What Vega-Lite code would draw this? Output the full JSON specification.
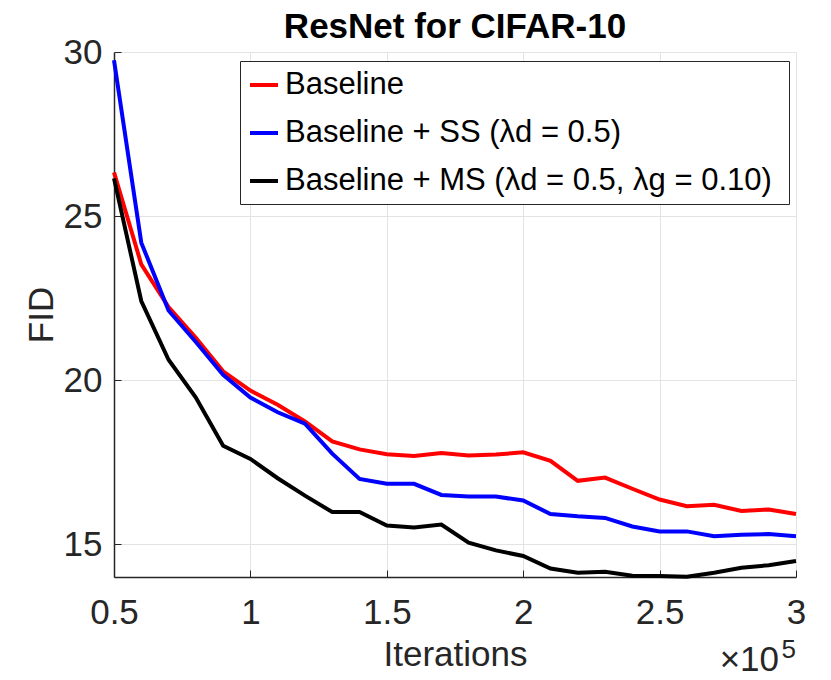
{
  "$schema": "https://vega.github.io/schema/vega-lite/v6.json",
  "width": 682,
  "height": 525,
  "autosize": {"type": "none"},
  "padding": {"left": 114, "top": 52, "right": 35, "bottom": 103},
  "background": "white",
  "title": {
    "text": "ResNet for CIFAR-10",
    "font": "Liberation Sans",
    "fontSize": 35,
    "fontWeight": "bold",
    "color": "#000000",
    "anchor": "middle",
    "baseline": "alphabetic",
    "offset": -38
  },
  "config": {
    "view": {"stroke": null},
    "font": "Liberation Sans"
  },
  "data": {
    "values": [
      {"x": 0.5, "fid": 26.33, "series": "Baseline"},
      {"x": 0.6, "fid": 23.53, "series": "Baseline"},
      {"x": 0.7, "fid": 22.23, "series": "Baseline"},
      {"x": 0.8, "fid": 21.29, "series": "Baseline"},
      {"x": 0.9, "fid": 20.27, "series": "Baseline"},
      {"x": 1.0, "fid": 19.68, "series": "Baseline"},
      {"x": 1.1, "fid": 19.25, "series": "Baseline"},
      {"x": 1.2, "fid": 18.74, "series": "Baseline"},
      {"x": 1.3, "fid": 18.13, "series": "Baseline"},
      {"x": 1.4, "fid": 17.89, "series": "Baseline"},
      {"x": 1.5, "fid": 17.74, "series": "Baseline"},
      {"x": 1.6, "fid": 17.69, "series": "Baseline"},
      {"x": 1.7, "fid": 17.78, "series": "Baseline"},
      {"x": 1.8, "fid": 17.70, "series": "Baseline"},
      {"x": 1.9, "fid": 17.73, "series": "Baseline"},
      {"x": 2.0, "fid": 17.80, "series": "Baseline"},
      {"x": 2.1, "fid": 17.54, "series": "Baseline"},
      {"x": 2.2, "fid": 16.93, "series": "Baseline"},
      {"x": 2.3, "fid": 17.03, "series": "Baseline"},
      {"x": 2.4, "fid": 16.69, "series": "Baseline"},
      {"x": 2.5, "fid": 16.36, "series": "Baseline"},
      {"x": 2.6, "fid": 16.16, "series": "Baseline"},
      {"x": 2.7, "fid": 16.20, "series": "Baseline"},
      {"x": 2.8, "fid": 16.01, "series": "Baseline"},
      {"x": 2.9, "fid": 16.06, "series": "Baseline"},
      {"x": 3.0, "fid": 15.92, "series": "Baseline"},
      {"x": 0.5, "fid": 29.75, "series": "Baseline + SS (λd = 0.5)"},
      {"x": 0.6, "fid": 24.19, "series": "Baseline + SS (λd = 0.5)"},
      {"x": 0.7, "fid": 22.12, "series": "Baseline + SS (λd = 0.5)"},
      {"x": 0.8, "fid": 21.16, "series": "Baseline + SS (λd = 0.5)"},
      {"x": 0.9, "fid": 20.16, "series": "Baseline + SS (λd = 0.5)"},
      {"x": 1.0, "fid": 19.47, "series": "Baseline + SS (λd = 0.5)"},
      {"x": 1.1, "fid": 19.02, "series": "Baseline + SS (λd = 0.5)"},
      {"x": 1.2, "fid": 18.67, "series": "Baseline + SS (λd = 0.5)"},
      {"x": 1.3, "fid": 17.76, "series": "Baseline + SS (λd = 0.5)"},
      {"x": 1.4, "fid": 16.99, "series": "Baseline + SS (λd = 0.5)"},
      {"x": 1.5, "fid": 16.84, "series": "Baseline + SS (λd = 0.5)"},
      {"x": 1.6, "fid": 16.84, "series": "Baseline + SS (λd = 0.5)"},
      {"x": 1.7, "fid": 16.50, "series": "Baseline + SS (λd = 0.5)"},
      {"x": 1.8, "fid": 16.45, "series": "Baseline + SS (λd = 0.5)"},
      {"x": 1.9, "fid": 16.45, "series": "Baseline + SS (λd = 0.5)"},
      {"x": 2.0, "fid": 16.33, "series": "Baseline + SS (λd = 0.5)"},
      {"x": 2.1, "fid": 15.92, "series": "Baseline + SS (λd = 0.5)"},
      {"x": 2.2, "fid": 15.85, "series": "Baseline + SS (λd = 0.5)"},
      {"x": 2.3, "fid": 15.80, "series": "Baseline + SS (λd = 0.5)"},
      {"x": 2.4, "fid": 15.54, "series": "Baseline + SS (λd = 0.5)"},
      {"x": 2.5, "fid": 15.39, "series": "Baseline + SS (λd = 0.5)"},
      {"x": 2.6, "fid": 15.39, "series": "Baseline + SS (λd = 0.5)"},
      {"x": 2.7, "fid": 15.24, "series": "Baseline + SS (λd = 0.5)"},
      {"x": 2.8, "fid": 15.29, "series": "Baseline + SS (λd = 0.5)"},
      {"x": 2.9, "fid": 15.31, "series": "Baseline + SS (λd = 0.5)"},
      {"x": 3.0, "fid": 15.24, "series": "Baseline + SS (λd = 0.5)"},
      {"x": 0.5, "fid": 26.15, "series": "Baseline + MS (λd = 0.5,  λg = 0.10)"},
      {"x": 0.6, "fid": 22.41, "series": "Baseline + MS (λd = 0.5,  λg = 0.10)"},
      {"x": 0.7, "fid": 20.62, "series": "Baseline + MS (λd = 0.5,  λg = 0.10)"},
      {"x": 0.8, "fid": 19.47, "series": "Baseline + MS (λd = 0.5,  λg = 0.10)"},
      {"x": 0.9, "fid": 18.00, "series": "Baseline + MS (λd = 0.5,  λg = 0.10)"},
      {"x": 1.0, "fid": 17.60, "series": "Baseline + MS (λd = 0.5,  λg = 0.10)"},
      {"x": 1.1, "fid": 17.01, "series": "Baseline + MS (λd = 0.5,  λg = 0.10)"},
      {"x": 1.2, "fid": 16.48, "series": "Baseline + MS (λd = 0.5,  λg = 0.10)"},
      {"x": 1.3, "fid": 15.98, "series": "Baseline + MS (λd = 0.5,  λg = 0.10)"},
      {"x": 1.4, "fid": 15.98, "series": "Baseline + MS (λd = 0.5,  λg = 0.10)"},
      {"x": 1.5, "fid": 15.57, "series": "Baseline + MS (λd = 0.5,  λg = 0.10)"},
      {"x": 1.6, "fid": 15.51, "series": "Baseline + MS (λd = 0.5,  λg = 0.10)"},
      {"x": 1.7, "fid": 15.60, "series": "Baseline + MS (λd = 0.5,  λg = 0.10)"},
      {"x": 1.8, "fid": 15.05, "series": "Baseline + MS (λd = 0.5,  λg = 0.10)"},
      {"x": 1.9, "fid": 14.81, "series": "Baseline + MS (λd = 0.5,  λg = 0.10)"},
      {"x": 2.0, "fid": 14.64, "series": "Baseline + MS (λd = 0.5,  λg = 0.10)"},
      {"x": 2.1, "fid": 14.26, "series": "Baseline + MS (λd = 0.5,  λg = 0.10)"},
      {"x": 2.2, "fid": 14.13, "series": "Baseline + MS (λd = 0.5,  λg = 0.10)"},
      {"x": 2.3, "fid": 14.16, "series": "Baseline + MS (λd = 0.5,  λg = 0.10)"},
      {"x": 2.4, "fid": 14.04, "series": "Baseline + MS (λd = 0.5,  λg = 0.10)"},
      {"x": 2.5, "fid": 14.03, "series": "Baseline + MS (λd = 0.5,  λg = 0.10)"},
      {"x": 2.6, "fid": 14.01, "series": "Baseline + MS (λd = 0.5,  λg = 0.10)"},
      {"x": 2.7, "fid": 14.13, "series": "Baseline + MS (λd = 0.5,  λg = 0.10)"},
      {"x": 2.8, "fid": 14.28, "series": "Baseline + MS (λd = 0.5,  λg = 0.10)"},
      {"x": 2.9, "fid": 14.36, "series": "Baseline + MS (λd = 0.5,  λg = 0.10)"},
      {"x": 3.0, "fid": 14.49, "series": "Baseline + MS (λd = 0.5,  λg = 0.10)"}
    ]
  },
  "layer": [
    {
      "mark": {"type": "line", "strokeWidth": 4, "clip": false},
      "encoding": {
        "x": {
          "field": "x",
          "type": "quantitative",
          "scale": {"domain": [0.5, 3], "nice": false, "zero": false},
          "axis": {
            "values": [0.5, 1, 1.5, 2, 2.5, 3],
            "format": "~g",
            "title": "Iterations",
            "titleFont": "Liberation Sans",
            "titleFontSize": 35,
            "titleFontWeight": "normal",
            "titleColor": "#262626",
            "titlePadding": 7,
            "labelFont": "Liberation Sans",
            "labelFontSize": 35,
            "labelColor": "#262626",
            "labelFlush": false,
            "labelOverlap": false,
            "labelPadding": 25,
            "domainColor": "#262626",
            "domainWidth": 1.5,
            "tickColor": "#262626",
            "tickSize": -7,
            "tickWidth": 1,
            "grid": true,
            "gridColor": "#E3E3E3",
            "gridWidth": 1
          }
        },
        "y": {
          "field": "fid",
          "type": "quantitative",
          "scale": {"domain": [14, 30], "nice": false, "zero": false},
          "axis": {
            "values": [15, 20, 25, 30],
            "title": "FID",
            "titleFont": "Liberation Sans",
            "titleFontSize": 35,
            "titleFontWeight": "normal",
            "titleColor": "#262626",
            "titlePadding": 4,
            "labelFont": "Liberation Sans",
            "labelFontSize": 35,
            "labelColor": "#262626",
            "labelFlush": false,
            "labelOverlap": false,
            "labelPadding": 19,
            "domainColor": "#262626",
            "domainWidth": 1.5,
            "tickColor": "#262626",
            "tickSize": -7,
            "tickWidth": 1,
            "grid": true,
            "gridColor": "#E3E3E3",
            "gridWidth": 1
          }
        },
        "color": {
          "field": "series",
          "type": "nominal",
          "scale": {
            "domain": ["Baseline", "Baseline + SS (λd = 0.5)", "Baseline + MS (λd = 0.5,  λg = 0.10)"],
            "range": ["#FF0000", "#0000FF", "#000000"]
          },
          "legend": {
            "orient": "none",
            "legendX": 126,
            "legendY": 9,
            "title": null,
            "symbolType": "stroke",
            "symbolSize": 784,
            "symbolStrokeWidth": 4,
            "labelFont": "Liberation Sans",
            "labelFontSize": 31,
            "labelFontWeight": "normal",
            "labelColor": "#000000",
            "labelOffset": 5,
            "labelLimit": 0,
            "padding": 8,
            "rowPadding": 17,
            "strokeColor": "#262626",
            "fillColor": "#FFFFFF"
          }
        }
      }
    },
    {
      "data": {"values": [{}]},
      "mark": {
        "type": "text",
        "text": "×10",
        "font": "Liberation Sans",
        "fontSize": 35,
        "color": "#262626",
        "align": "right",
        "baseline": "alphabetic",
        "dx": -17,
        "dy": 94
      },
      "encoding": {
        "x": {"datum": 3},
        "y": {"datum": 14}
      }
    },
    {
      "data": {"values": [{}]},
      "mark": {
        "type": "text",
        "text": "5",
        "font": "Liberation Sans",
        "fontSize": 26,
        "color": "#262626",
        "align": "right",
        "baseline": "alphabetic",
        "dx": 0,
        "dy": 81
      },
      "encoding": {
        "x": {"datum": 3},
        "y": {"datum": 14}
      }
    }
  ]
}
